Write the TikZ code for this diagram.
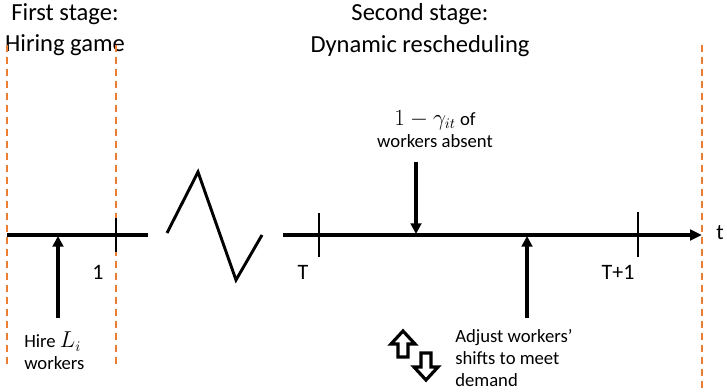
\documentclass[tikz,border=0pt]{standalone}
\usepackage{fontspec}
\setmainfont{Carlito}
\usetikzlibrary{arrows.meta}
\definecolor{stageorange}{RGB}{237,125,49}
\begin{document}
\begin{tikzpicture}[x=0.75pt,y=-0.75pt,
  axisline/.style={line width=2.4pt,black},
  tickline/.style={line width=1.2pt,black},
  stagesep/.style={stageorange,line width=1.6pt,dash pattern=on 5.5pt off 3.5pt},
  evarrow/.style={line width=2.4pt,-{Triangle[length=8pt,width=8pt]}},
  title/.style={font=\fontsize{18.4}{23.5}\selectfont,align=center,inner sep=0pt},
  lbl/.style={font=\fontsize{14}{16.5}\selectfont,inner sep=0pt},
  numlbl/.style={font=\fontsize{16.5}{19}\selectfont,inner sep=0pt},
  blockarrow/.style={line width=2.4pt,black,fill=white,line join=miter}
]
\useasboundingbox (0,0) rectangle (727,392);
% titles
\node[title] (t1) at (65,30) {First stage:\\Hiring game};
\node[title] (t2) at (420,30) {Second stage:\\Dynamic rescheduling};
% stage separators
\coordinate (s1a) at (7,45); \coordinate (s1b) at (7,366);
\coordinate (s2a) at (116,45); \coordinate (s2b) at (116,366);
\coordinate (s3a) at (702,45); \coordinate (s3b) at (702,392);
\draw[stagesep] (s1a) -- (s1b);
\draw[stagesep] (s2a) -- (s2b);
\draw[stagesep] (s3a) -- (s3b);
% axis
\coordinate (a0) at (7,235); \coordinate (a1) at (148,235);
\coordinate (b0) at (283,235); \coordinate (b1) at (702,235);
\draw[axisline] (a0) -- (a1);
\draw[axisline,-{Triangle[length=9pt,width=8pt]}] (b0) -- (b1);
\node[numlbl] (tlab) at (720,233) {t};
% break zigzag
\coordinate (z0) at (167,233); \coordinate (z1) at (198,172);
\coordinate (z2) at (236,280); \coordinate (z3) at (262,235);
\draw[line width=2.2pt,line join=miter] (z0) -- (z1) -- (z2) -- (z3);
% ticks
\coordinate (k1a) at (116,218); \coordinate (k1b) at (116,252);
\coordinate (kTa) at (319,213); \coordinate (kTb) at (319,257);
\coordinate (kT1a) at (638,212); \coordinate (kT1b) at (638,257);
\draw[tickline] (k1a) -- (k1b);
\draw[tickline] (kTa) -- (kTb);
\draw[tickline] (kT1a) -- (kT1b);
\node[numlbl] (one) at (98,272) {1};
\node[numlbl] (T) at (303,272) {T};
\node[numlbl] (T1) at (618,272) {T+1};
% hire
\coordinate (h0) at (58,318); \coordinate (h1) at (58,236);
\draw[evarrow] (h0) -- (h1);
\node[lbl,anchor=west,align=left] (hire) at (24,351) {Hire {\fontsize{16}{16.5}\selectfont$L_i$}\\workers};
% absent
\coordinate (ab0) at (416,162); \coordinate (ab1) at (416,234);
\draw[evarrow] (ab0) -- (ab1);
\node[lbl,align=center] (abs) at (435,129) {{\fontsize{16}{16.5}\selectfont$1-\gamma_{it}$} of\\workers absent};
% demand
\coordinate (d0) at (527,318); \coordinate (d1) at (527,236);
\draw[evarrow] (d0) -- (d1);
\node[lbl,anchor=west,align=left] (adj) at (455,358) {Adjust workers'\\shifts to meet\\demand};
% block arrows
\draw[blockarrow] (403,331) -- (415,344) -- (408,344) -- (408,357) -- (398,357) -- (398,344) -- (391,344) -- cycle;
\draw[blockarrow] (426,380) -- (438,367) -- (431,367) -- (431,353) -- (421,353) -- (421,367) -- (414,367) -- cycle;
\end{tikzpicture}
\end{document}
